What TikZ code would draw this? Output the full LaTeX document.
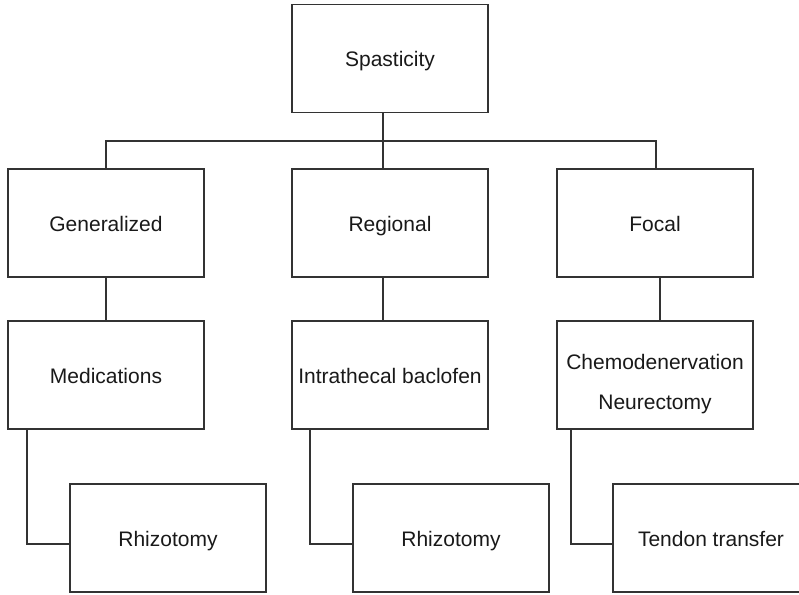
\documentclass[tikz,border=0pt]{standalone}
\usepackage{fontspec}
\setmainfont{Liberation Sans}
\usepackage{tikz}
\usetikzlibrary{calc}
\tikzset{%
	link/.style={draw=black!80, line width=1.2pt}
}

\begin{document}
\begin{tikzpicture}[x=1pt, y=-1pt,
		box/.style={draw=black!80, line width=1.2pt, minimum width=196pt, minimum height=108pt,
			inner sep=0pt, align=center, text=black!90, font=\fontsize{21}{40}\selectfont,
			execute at begin node=\strut, name=#1}]
				\useasboundingbox (0, 0) rectangle (799, 594);
				\node [box=spas] at (390, 58.5) {Spasticity};
				\node [box=gen] at (106, 223) {Generalized};
				\node [box=reg] at (390, 223) {Regional};
				\node [box=foc] at (655, 223) {Focal};
				\node [box=med] at (106, 375) {Medications};
				\node [box=itb] at (390, 375) {Intrathecal baclofen};
				\node [box=chem] at (655, 375) {\rule{0pt}{40pt}Chemodenervation\\Neurectomy};
				\node [box=rhA] at (168, 538) {Rhizotomy};
				\node [box=rhB] at (451, 538) {Rhizotomy};
				\node [box=ten] at (711, 538) {Tendon transfer};
				\coordinate (bus) at (383, 141);
				\draw [link] (spas.south -| bus) -- (reg.north -| bus);
				\draw [link] (gen.north) |- (bus) -| ([xshift=1pt]foc.north);
				\draw [link] (gen.south) -- (med.north);
				\draw [link] (reg.south -| bus) -- (itb.north -| bus);
				\draw [link] ([xshift=5pt]foc.south) -- ([xshift=5pt]chem.north);
				\draw [link] ([xshift=-79pt]med.south) |- ([yshift=-6pt]rhA.west);
				\draw [link] ([xshift=-80pt]itb.south) |- ([yshift=-6pt]rhB.west);
				\draw [link] ([xshift=-84pt]chem.south) |- ([yshift=-6pt]ten.west);
			\end{tikzpicture}
\end{document}
